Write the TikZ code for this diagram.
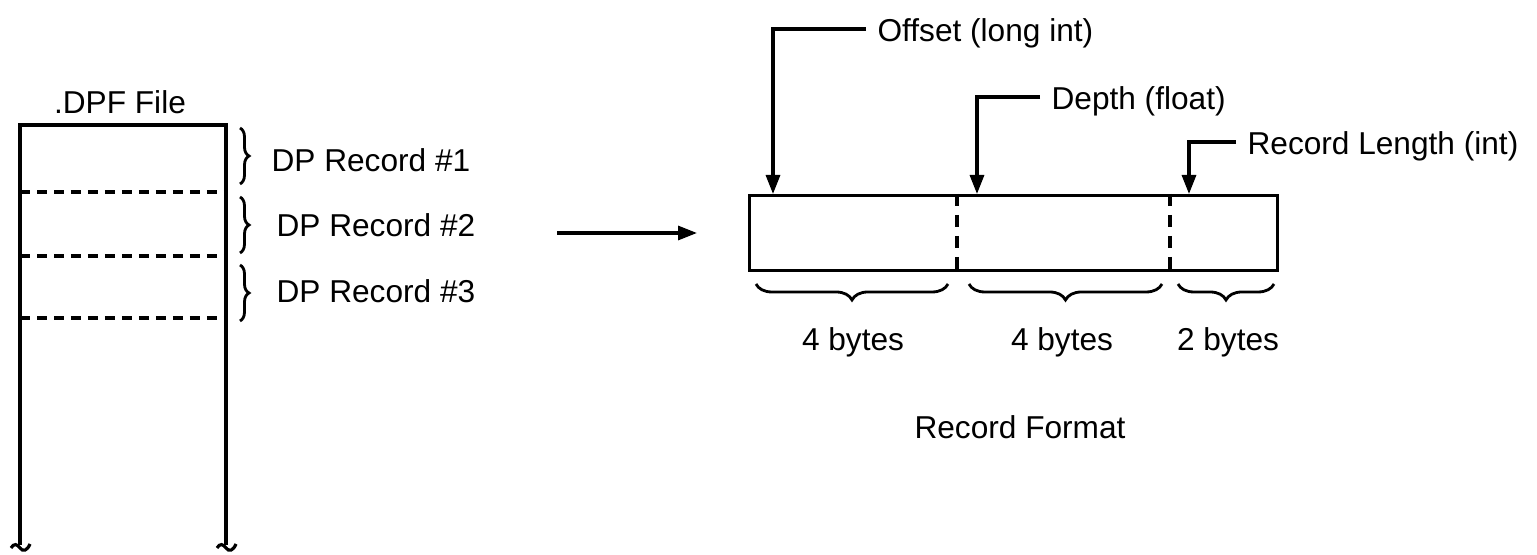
\documentclass[tikz,border=0pt]{standalone}
\usepackage{fontspec}
\setmainfont{Liberation Sans}
\usetikzlibrary{arrows.meta,positioning,calc,decorations.pathreplacing}

\begin{document}
\begin{tikzpicture}[x=0.1mm,y=-0.1mm,line width=0.9pt,
    every node/.style={font=\fontsize{9}{11}\selectfont},
    lbl/.style={anchor=west,inner sep=0pt,text height=0.72em,text depth=0pt},
    tag/.style={lbl,inner sep=1mm},
    ptr/.style={-{Triangle[length=1.9mm,width=1.4mm]}},
    sep/.style={dash pattern=on 1mm off 0.7mm},
    brc/.style={decorate,decoration={brace,amplitude=#1},line width=0.8pt}]
  \useasboundingbox (0,0) rectangle (1537,555);

  % .DPF file
  \node (dpf) at (120,102) {.DPF File};
  \draw (20,545) -- (20,125) -- (226,125) -- (226,545);
  \foreach \y in {192,256,318}
    \draw[sep] (20,\y) -- (226,\y);
  \foreach \x in {20,226}
    \draw ({\x-9},548) .. controls ({\x-6},543) and ({\x-3},544) .. ({\x},548)
      .. controls ({\x+3},552) and ({\x+7},551) .. ({\x+10},544);

  % records in the file
  \draw[brc=0.9mm] (240,128) -- (240,184);
  \draw[brc=0.9mm] (240,197) -- (240,253);
  \draw[brc=0.9mm] (240,265) -- (240,321);
  \node[lbl] (r1) at (270,159) {DP Record \#1};
  \node[lbl] (r2) at (275,224) {DP Record \#2};
  \node[lbl] (r3) at (275,290) {DP Record \#3};

  \coordinate (from) at (557,233);
  \coordinate (to) at (697,233);
  \draw[ptr] (from) -- (to);

  % record layout
  \node[draw,minimum width=52.8mm,minimum height=7.5mm,inner sep=0pt,
        anchor=north west] (rec) at (748,194) {};
  \foreach \dx in {209,422}
    \draw[dash pattern=on 1.2mm off 0.9mm]
      ($(rec.north west)+(\dx,0)$) -- ($(rec.south west)+(\dx,0)$);

  \node[tag] (off) at (866,29) {Offset (long int)};
  \node[tag] (dep) at (1040,97) {Depth (float)};
  \node[tag] (len) at (1236,142) {Record Length (int)};
  \draw[ptr] (off.west) -| ($(rec.north west)+(25,0)$);
  \draw[ptr] (dep.west) -| ($(rec.north west)+(229,0)$);
  \draw[ptr] (len.west) -| ($(rec.north west)+(441,0)$);

  \draw[brc=1.6mm] (948,284) -- (756,284);
  \draw[brc=1.6mm] (1162,284) -- (969,284);
  \draw[brc=1.6mm] (1274,284) -- (1178,284);
  \node[anchor=base] (b1) at (853,351) {4 bytes};
  \node[anchor=base] (b2) at (1062,351) {4 bytes};
  \node[anchor=base] (b3) at (1228,351) {2 bytes};
  \node[anchor=base] (fmt) at (1020,439) {Record Format};
\end{tikzpicture}
\end{document}
